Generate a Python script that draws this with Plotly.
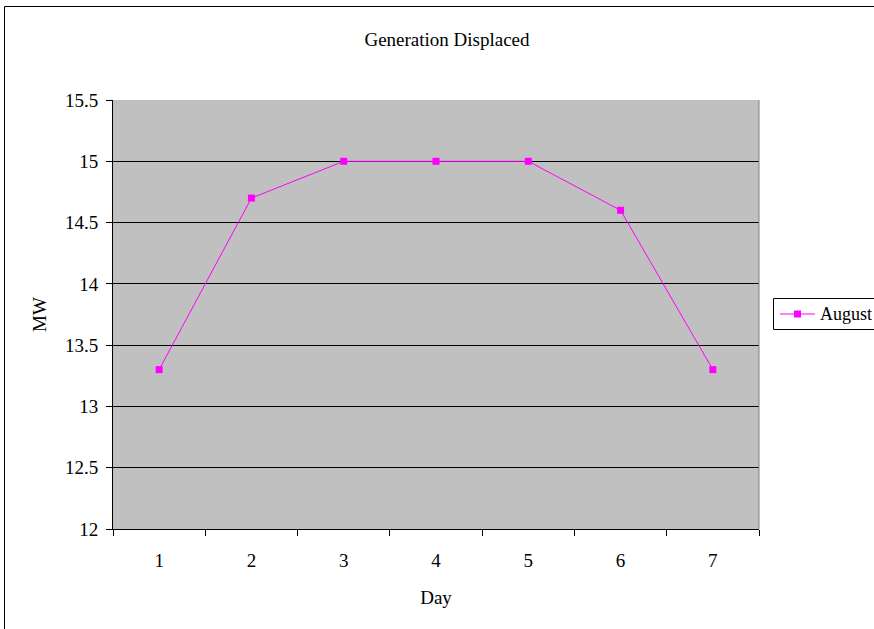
import plotly.graph_objects as go

days = [1, 2, 3, 4, 5, 6, 7]
august = [13.3, 14.7, 15.0, 15.0, 15.0, 14.6, 13.3]
y_ticks = [12, 12.5, 13, 13.5, 14, 14.5, 15, 15.5]
y_labels = ["12", "12.5", "13", "13.5", "14", "14.5", "15", "15.5"]
series_name = "August"

FONT = "Times New Roman, Liberation Serif, serif"
FS = 19
MAG = "#FF00FF"

fig = go.Figure()
fig.add_trace(go.Scatter(
    x=days, y=august, name=series_name, mode="lines+markers",
    line=dict(color=MAG, width=1),
    marker=dict(symbol="square", size=7, color=MAG),
    showlegend=False,
))

W, H = 874, 629
L, R, T, B = 113, 115, 100, 100
pw, ph = W - L - R, H - T - B

def px_x(x):
    return (x - L) / pw

def px_y(y):
    return 1 - (y - T) / ph

font = dict(family=FONT, size=FS, color="black")

fig.update_layout(
    width=W, height=H,
    margin=dict(l=L, r=R, t=T, b=B, autoexpand=False),
    paper_bgcolor="white",
    plot_bgcolor="#C0C0C0",
    font=font,
    title=dict(text="Generation Displaced", x=447 / W, xanchor="center",
               y=1 - 39 / H, yanchor="middle", font=font),
    showlegend=False,
    xaxis=dict(
        range=[0.5, 7.5], tickvals=days, ticktext=[str(d) for d in days],
        ticks="", showgrid=False, zeroline=False, automargin=False,
        showline=True, linecolor="black", linewidth=1,
        tickfont=font,
        minor=dict(tick0=0.5, dtick=1, ticks="outside", ticklen=6,
                   tickcolor="black", showgrid=False),
        title=dict(text="Day", standoff=20, font=font),
        ticklabelstandoff=14,
    ),
    yaxis=dict(
        range=[12, 15.5], tickvals=y_ticks, ticktext=y_labels,
        ticks="outside", ticklen=6, tickcolor="black", automargin=False,
        showgrid=True, gridcolor="black", gridwidth=1, zeroline=False,
        showline=True, linecolor="black", linewidth=1,
        tickfont=font, ticklabelstandoff=4,
        title=dict(text="MW", standoff=13, font=font),
    ),
)

# right edge of plot area (gray)
fig.add_shape(type="line", xref="paper", yref="paper", x0=1, x1=1, y0=0, y1=1,
              line=dict(color="#808080", width=1))
# outer chart border
fig.add_shape(type="rect", xref="paper", yref="paper",
              x0=px_x(4.5), x1=px_x(W + 20), y0=px_y(H + 20), y1=px_y(6.5),
              line=dict(color="black", width=1))

# legend box (runs off the right edge as in the reference)
fig.add_shape(type="rect", xref="paper", yref="paper",
              x0=px_x(773.5), x1=px_x(W + 30), y0=px_y(329.5), y1=px_y(298.5),
              line=dict(color="black", width=1), fillcolor="white")
fig.add_shape(type="line", xref="paper", yref="paper",
              x0=px_x(780), x1=px_x(815), y0=px_y(314), y1=px_y(314),
              line=dict(color=MAG, width=1))
fig.add_shape(type="rect", xref="paper", yref="paper",
              x0=px_x(794), x1=px_x(801), y0=px_y(317.5), y1=px_y(310.5),
              line=dict(color=MAG, width=0), fillcolor=MAG)
fig.add_annotation(xref="paper", yref="paper", x=px_x(818), y=px_y(314),
                   xanchor="left", yanchor="middle", showarrow=False,
                   text=series_name, font=dict(family=FONT, size=18, color="black"))

fig.write_html("out.html")
